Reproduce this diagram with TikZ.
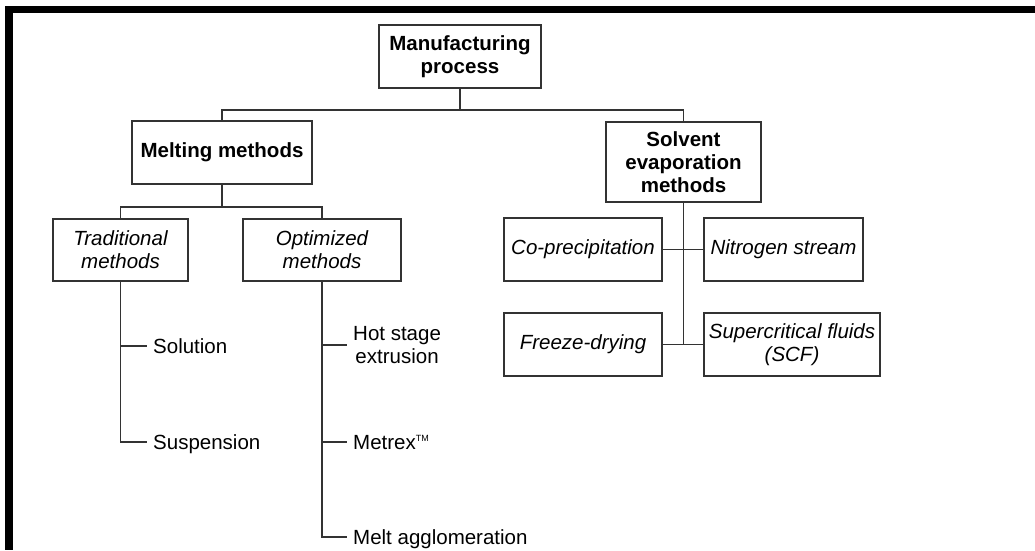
\documentclass[tikz,border=0pt]{standalone}
\usepackage{fontspec}
\setmainfont{Liberation Sans}
\usetikzlibrary{calc}

\begin{document}
\begin{tikzpicture}[x=1pt,y=-1pt,
    cadre/.style={draw=black!80, line width=1.2pt, minimum height=63pt, align=center, inner sep=1pt},
    titre/.style={cadre, font=\fontsize{20.5}{23}\selectfont\bfseries},
    methode/.style={cadre, font=\fontsize{20.5}{23}\selectfont\itshape},
    feuille/.style={anchor=west, inner xsep=6pt, inner ysep=0pt, align=center, font=\fontsize{20.5}{23}\selectfont},
    ligne/.style={feuille, text height=14.7pt, text depth=0pt},
    lien/.style={draw=black!80, line width=1.2pt}]

    % Cadre de la page
    \useasboundingbox (0,0) rectangle (1035,550);
    \fill[white] (0,0) rectangle (1035,550);
    \fill[black] (5,6) rectangle (1035,13);
    \fill[black] (5,6) rectangle (13,550);

    % Niveau principal
    \node[titre, minimum width=162pt] (manuf) at (460,56.5) {Manufacturing\\process};
    \node[titre, minimum width=180pt] (melt) at (222,152.5) {Melting methods};
    \node[titre, minimum width=155pt, minimum height=80pt] (solv) at (683.5,162) {Solvent\\evaporation\\methods};

    % Branches des methodes de fusion
    \node[methode, minimum width=135pt, minimum height=62pt] (trad) at (120.5,250) {Traditional\\methods};
    \node[methode, minimum width=158pt, minimum height=62pt] (optim) at (322,250) {Optimized\\methods};

    % Branches de l'evaporation
    \node[methode, minimum width=158pt] (copre) at (583,249.5) {Co-precipitation};
    \node[methode, minimum width=159pt] (nitro) at (783.5,249.5) {Nitrogen stream};
    \node[methode, minimum width=158pt] (freeze) at (583,344.5) {Freeze-drying};
    \node[methode, minimum width=176pt] (scf) at (792,344.5) {Supercritical fluids\\(SCF)};

    % Feuilles
    \node[ligne] (sol) at (147,346) {Solution};
    \node[ligne] (susp) at (147,442) {Suspension};
    \node[feuille] (hot) at (347,345) {Hot stage\\extrusion};
    \node[ligne] (metrex) at (347,442) {Metrex\raisebox{8.2pt}{\fontsize{9}{9}\selectfont TM}};
    \node[ligne] (agglo) at (347,537) {Melt agglomeration};

    % Liaisons du premier niveau
    \coordinate (j1) at (460,110);
    \draw[lien] (manuf.south) -- (j1);
    \draw[lien] (j1) -| (melt.north);
    \draw[lien] (j1) -| (solv.north);

    % Liaisons des methodes de fusion
    \coordinate (j2) at (222,207);
    \draw[lien] (melt.south) -- (j2);
    \draw[lien] (j2) -| (trad.north);
    \draw[lien] (j2) -| (optim.north);
    \draw[lien] (trad.south) |- (sol.west);
    \draw[lien] (trad.south) |- (susp.west);
    \draw[lien] (optim.south) |- (hot.west);
    \draw[lien] (optim.south) |- (metrex.west);
    \draw[lien] (optim.south) |- (agglo.west);

    % Liaisons de l'evaporation
    \draw[lien] (solv.south) -- (solv.south |- freeze.east);
    \draw[lien] (copre) -- (nitro);
    \draw[lien] (freeze) -- (scf);

\end{tikzpicture}
\end{document}
